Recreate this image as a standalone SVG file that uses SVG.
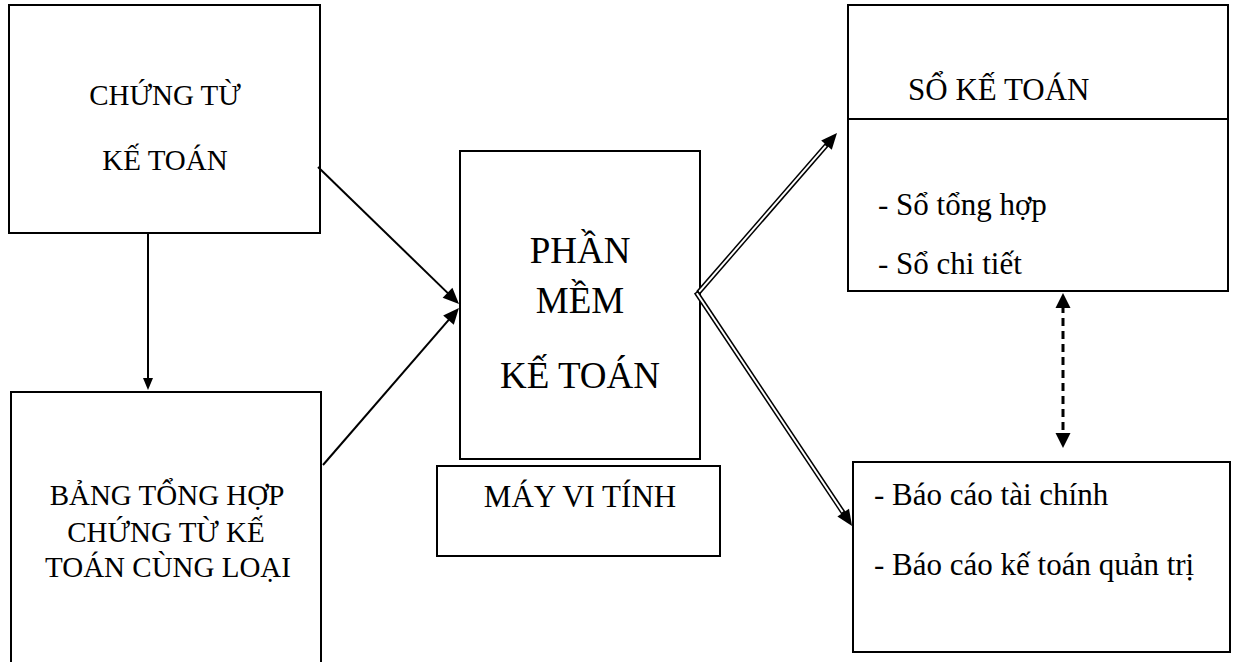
<svg xmlns="http://www.w3.org/2000/svg" width="1234" height="662" viewBox="0 0 1234 662">
<style>
.box{fill:#fff;stroke:#000;stroke-width:2}
.t{font-family:"Liberation Serif","Times New Roman",serif;fill:#000}
.c{text-anchor:middle}
.s29{font-size:29px}
.s31{font-size:31px}
.s37{font-size:37px}
.ln{stroke:#000;stroke-width:2;fill:none}
.dbl{stroke:#000;stroke-width:5;fill:none}
.dblw{stroke:#fff;stroke-width:2;fill:none}
.dash{stroke:#000;stroke-width:3;fill:none;stroke-dasharray:8 5}
</style>
<defs>
<marker id="ah" markerUnits="userSpaceOnUse" markerWidth="16" markerHeight="14" refX="4" refY="7" orient="auto" overflow="visible"><path d="M0,0 L16,7 L0,14 z" fill="#000"/></marker>
<marker id="ahs" markerUnits="userSpaceOnUse" markerWidth="12" markerHeight="10" refX="3" refY="5" orient="auto" overflow="visible"><path d="M0,0 L12,5 L0,10 z" fill="#000"/></marker>
<marker id="ahd" markerUnits="userSpaceOnUse" markerWidth="15" markerHeight="15" refX="3" refY="7.5" orient="auto-start-reverse" overflow="visible"><path d="M0,0 L15,7.5 L0,15 z" fill="#000"/></marker>
</defs>
<g id="chung-tu">
<rect class="box" x="9" y="5" width="311" height="228"/>
<text class="t c s29" x="165" y="105">CHỨNG TỪ</text>
<text class="t c s29" x="165" y="170">KẾ TOÁN</text>
</g>
<g id="bang-tong-hop">
<rect class="box" x="11" y="392" width="310" height="300"/>
<text class="t c s29" x="167" y="505">BẢNG TỔNG HỢP</text>
<text class="t c s29" x="166" y="542">CHỨNG TỪ KẾ</text>
<text class="t c s29" x="168" y="577">TOÁN CÙNG LOẠI</text>
</g>
<g id="phan-mem">
<rect class="box" x="460" y="151" width="240" height="308"/>
<text class="t c s37" x="580" y="263">PHẦN</text>
<text class="t c s37" x="580" y="313">MỀM</text>
<text class="t c s37" x="580" y="388">KẾ TOÁN</text>
</g>
<g id="may-vi-tinh">
<rect class="box" x="437" y="466" width="283" height="90"/>
<text class="t c s31" x="580" y="507">MÁY VI TÍNH</text>
</g>
<g id="so-ke-toan">
<rect class="box" x="848" y="5" width="380" height="286"/>
<line class="ln" x1="848" y1="119" x2="1228" y2="119"/>
<text class="t s31" x="908" y="100">SỔ KẾ TOÁN</text>
<text class="t s31" x="878" y="215">- Sổ tổng hợp</text>
<text class="t s31" x="878" y="274">- Sổ chi tiết</text>
</g>
<g id="bao-cao">
<rect class="box" x="853" y="462" width="377" height="190"/>
<text class="t s31" x="874" y="505">- Báo cáo tài chính</text>
<text class="t s31" x="874" y="575">- Báo cáo kế toán quản trị</text>
</g>
<g id="connectors">
<line class="ln" x1="148" y1="233" x2="148" y2="381" marker-end="url(#ahs)"/>
<line class="ln" x1="318" y1="167" x2="450.4" y2="295.6" marker-end="url(#ah)"/>
<line class="ln" x1="323" y1="465" x2="451.1" y2="317.1" marker-end="url(#ah)"/>
<line class="dbl" x1="698" y1="293" x2="829.1" y2="142.1" marker-end="url(#ah)"/>
<line class="dblw" x1="699" y1="291.9" x2="825.8" y2="145.8"/>
<line class="dbl" x1="696" y1="292" x2="845.4" y2="516" marker-end="url(#ah)"/>
<line class="dblw" x1="696.8" y1="293.2" x2="842.6" y2="511.9"/>
<line class="dash" x1="1063" y1="305" x2="1063" y2="436" marker-start="url(#ahd)" marker-end="url(#ahd)"/>
</g>
</svg>
